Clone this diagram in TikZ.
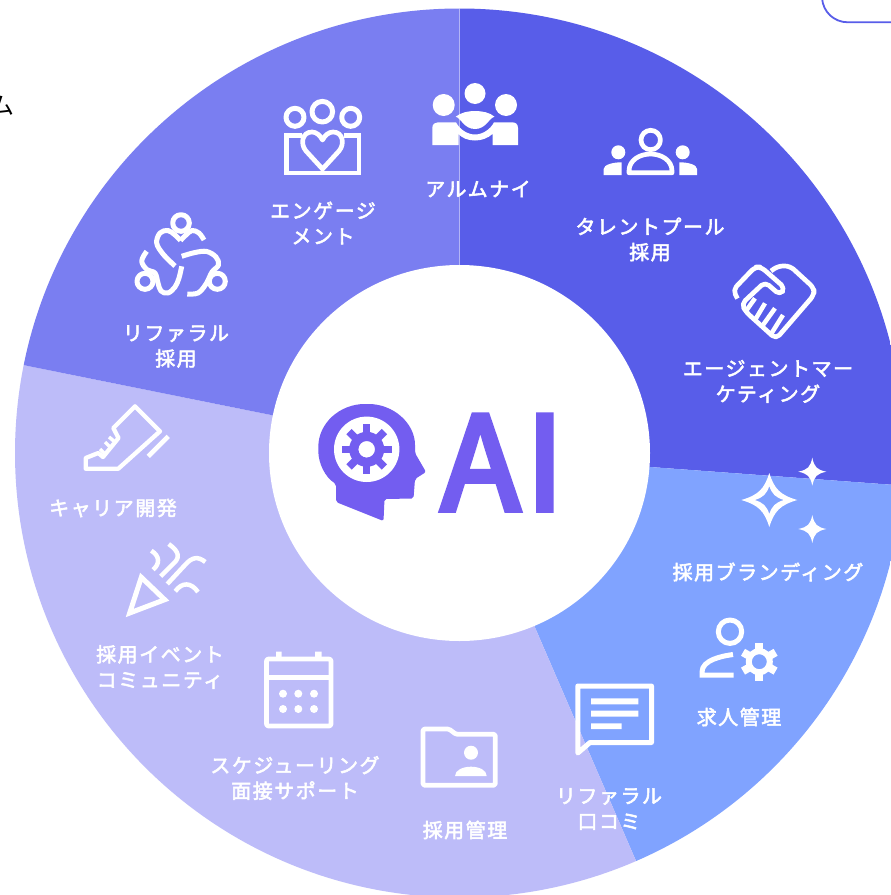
\documentclass[tikz,border=0pt]{standalone}
\usepackage{fontspec}
\newfontfamily\jp[LetterSpace=8]{Noto Sans CJK JP}
\newfontfamily\jpplain{Noto Sans CJK JP}
\newfontfamily\aifont{Noto Sans CJK JP}
\definecolor{cdark}{HTML}{585DE9}
\definecolor{clight}{HTML}{7A7EF1}
\definecolor{clilac}{HTML}{BDBCF9}
\definecolor{cblue}{HTML}{80A3FF}
\definecolor{cai}{HTML}{735DF0}
\tikzset{
  lab/.style={text=white,align=center,inner sep=0pt,font=\jp\fontsize{20}{25.6}\selectfont\special{pdf:code 2 Tr 0.55 w 1 1 1 RG}},
  ic/.style={draw=white,line width=#1,line join=round},
  ic/.default=4.7bp,
  icm/.style={draw=white,line width=#1,line join=miter},
  icm/.default=4.7bp
}
% centre x, centre y, hole r, body r, tip r, tooth width, angles, colour
\newcommand{\mygear}[8]{%
  \begin{scope}[shift={(#1,#2)}]
    \fill[#8,even odd rule] (0,0) circle (#4) (0,0) circle (#3);
    \foreach \a in {#7} \draw[#8,line width=#6] (\a:#4-1) -- (\a:#5);
  \end{scope}}
% four point star: x, y, rx, ry, waist
\newcommand{\mystar}[5]{%
  (#1+#3,#2) .. controls (#1+#5,#2+#5*0.45) and (#1+#5*0.45,#2+#5) .. (#1,#2+#4)
  .. controls (#1-#5*0.45,#2+#5) and (#1-#5,#2+#5*0.45) .. (#1-#3,#2)
  .. controls (#1-#5,#2-#5*0.45) and (#1-#5*0.45,#2-#5) .. (#1,#2-#4)
  .. controls (#1+#5*0.45,#2-#5) and (#1+#5,#2-#5*0.45) .. (#1+#3,#2) -- cycle}
\begin{document}
\begin{tikzpicture}[x=1bp,y=-1bp]
\useasboundingbox (0,0) rectangle (891,895);
\clip (0,0) rectangle (891,895);
\fill[white] (0,0) rectangle (891,895);
% cut-off text and box outside the wheel
\node (cutoff) at (2,106) [inner sep=0pt,font=\jpplain\fontsize{24}{24}\selectfont] {ム};
\draw[draw=cdark,line width=1.8bp] (822,-2) .. controls (823,12) and (834,22.3) .. (848,22.3) -- (895,22.3);
% wheel
\begin{scope}[shift={(459.5,453)}]
  \begin{scope}
    \clip (0,0) circle (444.5);
    \fill[cdark] (0,0) -- (270:700) -- (330:700) -- (4.2:700) -- cycle;
    \fill[cblue] (0,0) -- (4.2:700) -- (30:700) -- (66.6:700) -- cycle;
    \fill[clilac] (0,0) -- (66.6:700) -- (130:700) -- (191.4:700) -- cycle;
    \fill[clight] (0,0) -- (191.4:700) -- (230:700) -- (270:700) -- cycle;
    \draw[white,opacity=.3,line width=.8bp] (0,0) -- (270:700);
  \end{scope}
  \fill[white] (0,0) ellipse [x radius=190.5,y radius=188];
\end{scope}
% centre logo
\fill[cai,rounded corners=2bp] (336,502) -- (336,484) .. controls (325,477) and (318.3,463) .. (318.3,449)
  .. controls (318.3,423) and (340,404) .. (366.7,404) .. controls (393,404) and (415,423) .. (415,447)
  -- (415,453) -- (426,472) -- (415,479) -- (413.5,498.5) -- (384.5,499) -- (383.5,521) -- cycle;
\fill[white] (366.7,449.3) circle (32.7);
\mygear{366.7}{449.3}{8.3}{17.5}{25}{7.5bp}{0,45,...,315}{cai}
\node (ai) at (502.5,462.7) [inner sep=0pt,text=cai,font=\aifont\fontsize{130}{130}\selectfont\special{pdf:code 2 Tr 5.5 w 0.451 0.365 0.941 RG 0 j}] {A\hspace{6bp}I};
% alumni icon
\fill[white] (475,93.5) circle (10.5) (443.7,105) circle (11) (506,105) circle (11);
\fill[white] (432.3,145) -- (432.3,128) .. controls (432.3,124) and (435,122.3) .. (438,122.3) -- (456,122.3)
  .. controls (460,130) and (468,134.5) .. (475,134.5) .. controls (482,134.5) and (490,130) .. (494,122.3)
  -- (512,122.3) .. controls (515.5,122.3) and (518,124) .. (518,128) -- (518,145) -- (492.5,145) -- (492.5,134)
  .. controls (488,138) and (482,140.5) .. (475,140.5) .. controls (468,140.5) and (462,138) .. (458.5,134)
  -- (458.5,145) -- cycle;
\fill[white] (455.7,116.7) .. controls (461,112.5) and (468,111) .. (475,111) .. controls (482,111) and (490,112.5) .. (494.5,116.7)
  .. controls (489,118) and (486,129) .. (475,129) .. controls (464,129) and (461,118) .. (455.7,116.7) -- cycle;
% talent pool icon
\draw[ic] (650.7,140) circle (9.7);
\fill[white] (618.3,152.3) circle (7) (682.7,152.3) circle (7);
\draw[ic] (629,172.8) -- (629,171) .. controls (629,160) and (640,154) .. (650.5,154) .. controls (661,154) and (672,160) .. (672,171) -- (672,172.8) -- cycle;
\fill[white] (603.7,175) -- (603.7,169) .. controls (603.7,165) and (612,162.3) .. (621.7,162.3) -- (621.7,175) -- cycle;
\fill[white] (697,175) -- (697,169) .. controls (697,165) and (689,162.3) .. (679.3,162.3) -- (679.3,175) -- cycle;
% handshake icon
\begin{scope}[rounded corners=5bp]
\draw[ic] (737.5,298.5) -- (733,290) -- (755,267) -- (761,267) -- (785,288) -- (780,295) -- (765,282) -- (741.5,304) -- (746,312) -- (776,339) -- (814,295) -- (814,288) -- (790,266) -- (778,266) -- (771,271);
\end{scope}
\draw[ic,line width=4.5bp] (755,298.3) -- (746.7,310) (765,303.3) -- (755,320) (775,308.3) -- (763,325) (783,315) -- (771.7,333);
% engagement icon
\draw[ic=5bp] (322.3,111.7) circle (10.3) (295,117.3) circle (9) (350.7,117.3) circle (9);
\draw[icm] (302,135.5) -- (286.5,135.5) -- (286.5,173) -- (359,173) -- (359,135.5) -- (343.5,135.5);
\draw[ic] (322.5,169) -- (306,151) .. controls (300,144) and (302,132) .. (312,132) .. controls (316,132) and (320,135) .. (322.5,140)
  .. controls (325,135) and (329,132) .. (333,132) .. controls (343,132) and (345,144) .. (339,151) -- cycle;
% referral icon
\draw[ic=5bp] (181,223) circle (8.3) (145,281.3) circle (8) (217.3,281.3) circle (8);
\draw[ic=5bp,smooth,tension=.6] plot coordinates {(204,240) (199,233) (192,230.5) (186,235) (180.5,240.5)};
\draw[ic=5bp,smooth,tension=.6] plot coordinates {(180.5,240.5) (175,235) (168,230.5) (160,233) (156.7,243) (163,254) (175,266)};
\draw[ic=5bp,smooth,tension=.6] plot coordinates {(181.7,256.3) (195,252.5) (206.7,251.5) (216,257) (218.5,265) (212,272) (206,284) (198,293) (187.3,294)};
\draw[ic=5bp,smooth,tension=.6] plot coordinates {(181.7,266.3) (179,278) (175,287) (168,293) (161,291) (158,283) (155,273) (147,269.7) (141.7,261) (146.7,251.3)};
% career boot icon
\draw[ic=4.3bp] (85.7,468.7) -- (85.7,458) -- (98.3,453) -- (103,457) -- (118.5,438) -- (113.3,428) -- (135,406.3) -- (160,431.3) -- (118.3,468.7) -- cycle;
\draw[ic=3.5bp] (100,449) -- (105,454) (105,442) -- (111,448) (109,437) -- (115,442);
\draw[draw=white,line width=4.5bp] (148.3,456.3) -- (168.3,436.3);
% party icon
\draw[icm=5bp] (141.3,577.3) -- (164.7,599.7) -- (129.7,613) -- cycle;
\begin{scope}[draw=white,line width=4.5bp]
\draw (151.3,550.7) .. controls (160,556) and (160,564) .. (153,569.7);
\draw (168.7,544) .. controls (180,552) and (180,558) .. (173,564) -- (160.7,576.3);
\draw (167.3,584) -- (185,565) .. controls (192,557) and (198,556) .. (205.3,562);
\draw (175.3,591.3) .. controls (182,582) and (191,582) .. (198,592);
\end{scope}
% calendar icon
\draw[ic,rounded corners=2bp] (266.5,659) rectangle (331,726);
\draw[draw=white,line width=4.7bp] (266.5,677.5) -- (331,677.5);
\fill[white] (276,651.7) rectangle (281.7,657) (315,651.7) rectangle (321.7,657);
\foreach \x in {283,298.3,314} \foreach \y in {693.7,709} \fill[white] (\x,\y) circle (4);
% folder icon
\draw[ic,rounded corners=1.5bp] (423,785.3) -- (423,729) -- (449,729) -- (456,734.3) -- (495.3,734.3) -- (495.3,785.3) -- cycle;
\fill[white] (471,752.7) circle (7);
\fill[white] (455,776) .. controls (455,770) and (463,766.7) .. (471,766.7) .. controls (479,766.7) and (486.7,770) .. (486.7,776) -- cycle;
% chat icon
\draw[ic=5bp] (577.8,686) -- (651.5,686) -- (651.5,742.5) -- (590,742.5) -- (577.8,753) -- cycle;
\fill[white] (591,698.3) rectangle (638.3,704.3) (591,710.7) rectangle (638.3,716.7) (591,723.3) rectangle (621.7,729);
% job management icon
\draw[ic=5bp] (730,631.7) circle (11.7);
\draw[draw=white,line width=5bp] (733,654.5) .. controls (722,656) and (702,660) .. (702,672) -- (702,675) -- (733.5,675);
\mygear{759.3}{661.7}{7.5}{13.5}{18.8}{8bp}{30,90,...,330}{white}
% branding icon
\fill[white,even odd rule] \mystar{769.3}{500}{28}{27}{11} \mystar{769.3}{500}{14.5}{14}{6};
\fill[white] \mystar{812.3}{471.7}{14}{14}{4.5};
\fill[white] \mystar{812.3}{529}{14}{14}{4.5};
% labels
\node[lab] (l1) at (478,189) {アルムナイ};
\node[lab] (l2) at (650,239.5) {タレントプール\\採用};
\node[lab] (l3) at (768,381.5) {エージェントマー\\ケティング};
\node[lab] (l4) at (768,572) {採用ブランディング};
\node[lab] (l5) at (739,717) {求人管理};
\node[lab] (l6) at (609,809) {リファラル\\口コミ};
\node[lab] (l7) at (465,830) {採用管理};
\node[lab] (l8) at (295,778) {スケジューリング\\面接サポート};
\node[lab] (l9) at (160,667) {採用イベント\\コミュニティ};
\node[lab] (l10) at (113,508) {キャリア開発};
\node[lab] (l11) at (176,346.5) {リファラル\\採用};
\node[lab] (l12) at (323,223) {エンゲージ\\メント};
\end{tikzpicture}
\end{document}
